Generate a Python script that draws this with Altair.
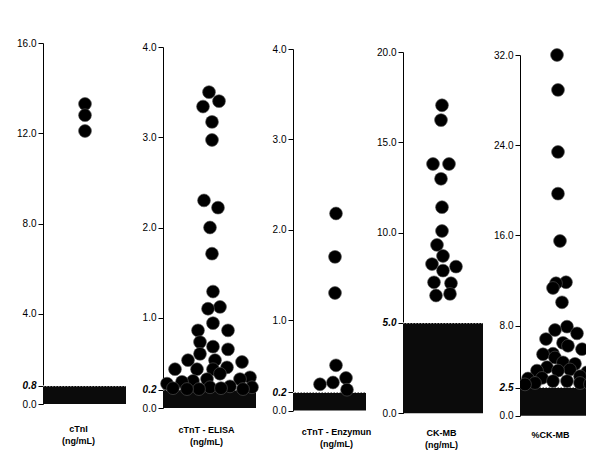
import altair as alt
import pandas as pd

# ---------------- data ----------------
names = ["cTnI", "cTnT - ELISA", "cTnT - Enzymun", "CK-MB", "%CK-MB"]
units = ["(ng/mL)", "(ng/mL)", "(ng/mL)", "(ng/mL)", ""]
y_max = [16, 4, 4, 20, 32]
tick_values = [
    [0, 0.8, 4, 8, 12, 16],
    [0, 0.2, 1, 2, 3, 4],
    [0, 0.2, 1, 2, 3, 4],
    [0, 5, 10, 15, 20],
    [0, 2.5, 8, 16, 24, 32],
]
cutoffs = [0.8, 0.2, 0.2, 5.0, 2.5]

# values of the individual patients (visible dots)
vals_ctni = [13.3, 12.8, 12.1]
lane_ctni = [42, 42, 42]

vals_elisa = [3.50, 3.40, 3.34, 3.17, 2.97, 2.30, 2.22, 2.00, 1.71, 1.29, 1.12, 1.10,
              0.94, 0.86, 0.86, 0.73, 0.68, 0.65, 0.60, 0.53, 0.53, 0.51, 0.45, 0.43,
              0.43, 0.43, 0.38, 0.34, 0.32, 0.32, 0.30, 0.29, 0.27, 0.24, 0.23, 0.23,
              0.22, 0.22, 0.21, 0.21, 0.21]
lane_elisa = [46, 56, 40, 49, 49, 41, 55, 47, 49, 50, 57, 45,
              50, 35, 65, 37, 50, 65, 37, 25, 52, 79, 64, 12,
              34, 50, 57, 87, 44, 77, 30, 19, 4, 67, 47, 89,
              58, 10, 36, 24, 80]

vals_enz = [2.18, 1.70, 1.30, 0.50, 0.36, 0.31, 0.29, 0.23]
lane_enz = [43, 42, 42, 43, 53, 40, 27, 54]

vals_ckmb = [17.05, 16.23, 13.8, 13.8, 12.98, 11.41, 10.09, 9.32, 8.71, 8.26,
             8.12, 7.9, 7.25, 7.2, 6.61, 6.52]
lane_ckmb = [39, 38, 30, 46, 38, 39, 39, 34, 40, 29,
             53, 40, 31, 48, 47, 33]

vals_pct = [32.0, 28.9, 23.4, 19.7, 15.5, 11.84, 11.75, 11.33, 10.06,
            7.9, 7.6, 7.3, 6.8, 6.46, 6.2, 5.9, 5.5, 5.45, 5.16, 4.73, 4.6,
            4.3, 4.1, 4.0, 4.0, 3.85, 3.5, 3.35, 3.3, 3.3, 3.07, 3.07, 2.9,
            2.78, 2.9, 2.8]
lane_pct = [37, 38, 38, 38, 40, 46, 36, 33, 42,
            47, 35, 57, 26, 43, 48, 62, 33, 23, 35, 43, 55,
            27, 50, 17, 38, 67, 60, 22, 8, 73, 33, 47, 15,
            5, 60, 70]

values = [vals_ctni, vals_elisa, vals_enz, vals_ckmb, vals_pct]
lanes = [lane_ctni, lane_elisa, lane_enz, lane_ckmb, lane_pct]

# ---------------- layout / style ----------------
widths = [83, 93, 73, 80, 66]
H = 373
y_ranges = [[361, 0], [365, 4], [367.5, 6], [370.3, 9], [372.7, 12]]
title_x = [35, 43, 43, 38, 30]
title_y = [8, 9.5, 11.5, 12, 14]
FONT = "Liberation Sans"


def panel(i):
    W = widths[i]
    yscale = alt.Scale(domain=[0, y_max[i]], range=y_ranges[i], nice=False)
    xscale = alt.Scale(domain=[0, W], nice=False, zero=False)
    cut = cutoffs[i]
    yaxis = alt.Axis(
        values=tick_values[i], format=".1f", title=None, grid=False,
        tickSize=5, tickColor="black", domainColor="black", domainWidth=1,
        labelFont=FONT, labelFontSize=10, labelColor="black", labelPadding=2,
        labelFontStyle={"condition": {"test": f"datum.value == {cut}", "value": "italic"},
                        "value": "normal"},
        labelFontWeight={"condition": {"test": f"datum.value == {cut}", "value": "bold"},
                         "value": "normal"},
    )
    title = [names[i], units[i]] if units[i] else names[i]
    xaxis = alt.Axis(
        labels=False, ticks=False, domain=False, grid=False, title=title,
        titleFont=FONT, titleFontSize=9, titleFontWeight="bold", titleColor="black",
        titleLineHeight=12, titleX=title_x[i], titleY=title_y[i],
        titleBaseline="top", titleAlign="center", titleAnchor="start",
    )
    cut_df = pd.DataFrame({"c": [cut]})
    box = alt.Chart(cut_df).mark_rect(color="#0b0b0b").encode(
        x=alt.value(0), x2=alt.value("width"),
        y=alt.Y("c:Q", scale=yscale, axis=yaxis), y2=alt.datum(0),
    )
    rule = alt.Chart(cut_df).mark_rule(color="white", strokeDash=[1.5, 1.5], strokeWidth=1).encode(
        x=alt.value(0), x2=alt.value("width"), y=alt.Y("c:Q", scale=yscale),
    )
    df = pd.DataFrame({"value": values[i], "lane": lanes[i]})
    pts = alt.Chart(df).mark_circle(
        size=165, color="black", opacity=1, stroke="#555555", strokeWidth=0.6,
        clip=(i == 4),
    ).encode(
        x=alt.X("lane:Q", scale=xscale, axis=xaxis),
        y=alt.Y("value:Q", scale=yscale),
    )
    return alt.layer(box, rule, pts).properties(width=W, height=H)


chart = alt.hconcat(*[panel(i) for i in range(5)], spacing=37, bounds="flush").properties(
    padding={"left": 8, "top": 29, "right": 0, "bottom": 0},
    background="white",
).configure_view(stroke="transparent")

chart.save("out.html", embed_options={"renderer": "svg", "actions": False})
